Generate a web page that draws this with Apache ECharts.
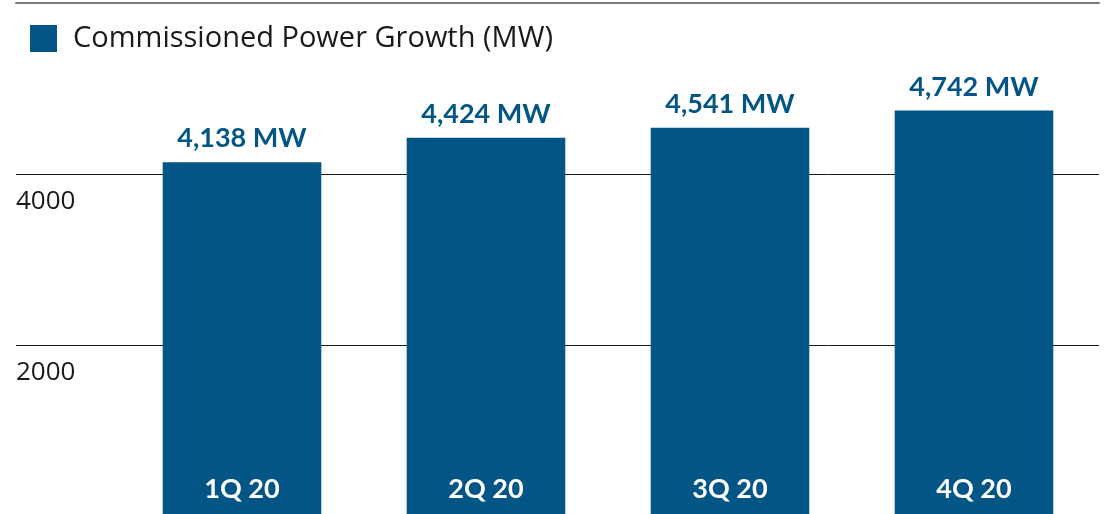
<!DOCTYPE html>
<html>
<head>
<meta charset="utf-8">
<script src="https://cdn.jsdelivr.net/npm/echarts@6/dist/echarts.min.js"></script>
<style>
html,body{margin:0;padding:0;background:#fff;}
#chart{width:1106px;height:514px;}
</style>
</head>
<body>
<div id="chart"></div>
<script>
const categories = ['1Q 20', '2Q 20', '3Q 20', '4Q 20'];
const powerValues = [4138, 4424, 4541, 4742];
const seriesName = 'Commissioned Power Growth (MW)';
const yTicks = [0, 2000, 4000, 6000];

const BLUE = '#035585';

const chart = echarts.init(document.getElementById('chart'), null, {renderer: 'canvas'});
chart.setOption({
  animation: false,
  backgroundColor: '#fff',
  legend: {
    left: 25, top: 19,
    icon: 'rect', itemWidth: 27, itemHeight: 27,
    textStyle: {fontFamily: 'Open Sans', fontSize: 29, color: '#1a1a1a', padding: [6, 0, 0, 11]},
    data: [seriesName]
  },
  grid: [
    {left: 16, right: 7, top: 3, bottom: -2, containLabel: false, outerBoundsMode: 'none'},
    {left: 120, right: 10, top: 3, bottom: -2, containLabel: false, outerBoundsMode: 'none'}
  ],
  xAxis: [
    {gridIndex: 0, type: 'category', position: 'top', data: [''],
     axisLine: {show: true, onZero: false, lineStyle: {color: '#7a7a7a', width: 2}},
     axisTick: {show: false}, axisLabel: {show: false}, z: 10},
    {gridIndex: 1, type: 'category', data: categories, z: 10,
     axisLine: {show: false, onZero: false}, axisTick: {show: false},
     axisLabel: {inside: true, margin: 13, color: '#fff', fontFamily: 'Lato', fontWeight: 'bold', fontSize: 27}}
  ],
  yAxis: [
    {gridIndex: 0, type: 'value', min: yTicks[0], max: yTicks[yTicks.length - 1], interval: 2000,
     axisLine: {show: false}, axisTick: {show: false},
     splitLine: {show: true, lineStyle: {color: ['transparent', '#1a1a1a', '#1a1a1a', 'transparent'], width: 1}},
     axisLabel: {inside: true, margin: 0, align: 'left', verticalAlign: 'top', padding: [14, 0, 0, 0],
       showMinLabel: false, showMaxLabel: false,
       formatter: v => String(v),
       fontFamily: 'Open Sans', fontSize: 26, color: '#1a1a1a', lineHeight: 28}},
    {gridIndex: 1, type: 'value', min: yTicks[0], max: yTicks[yTicks.length - 1], interval: 2000,
     show: false, splitLine: {show: false}}
  ],
  series: [{
    name: seriesName,
    type: 'bar',
    xAxisIndex: 1, yAxisIndex: 1,
    data: powerValues,
    barWidth: '65%',
    itemStyle: {color: BLUE},
    label: {
      show: true, position: 'top', distance: 10,
      color: BLUE, fontFamily: 'Lato', fontWeight: 'bold', fontSize: 27,
      formatter: p => p.value.toLocaleString('en-US') + ' MW'
    }
  }]
});
</script>
</body>
</html>
